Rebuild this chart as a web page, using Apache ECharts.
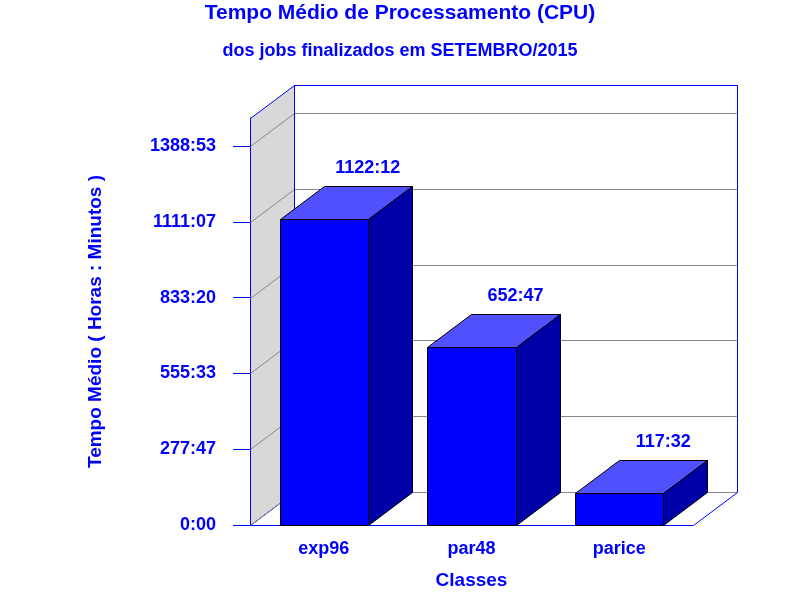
<!DOCTYPE html>
<html><head><meta charset="utf-8">
<script src="https://cdn.jsdelivr.net/npm/echarts@6/dist/echarts.min.js"></script>
<style>html,body{margin:0;padding:0;background:#fff}#c{width:800px;height:600px}</style>
</head><body><div id="c"></div>
<script>
// ---- data ----
const categories = ['exp96', 'par48', 'parice'];
// average CPU time in minutes (1122:12, 652:47, 117:32)
const cpuMinutes = [67332, 39167, 7052];
// y-axis ticks (minutes) and their labels
const tickMinutes = [0, 16666.67, 33333.33, 50000, 66666.67, 83333.33];
const tickLabels = ['0:00', '277:47', '555:33', '833:20', '1111:07', '1388:53'];

const FONT = '"Liberation Sans", Arial, Helvetica, sans-serif';
const BLUE = '#0000ff';
const DX = 44, DY = 33;

function fmtHM(m) {
  const t = Math.round(m);
  const h = Math.floor(t / 60), mm = t % 60;
  return h + ':' + (mm < 10 ? '0' : '') + mm;
}
const px = v => Math.round(v) + 0.5;

function renderWalls(params, api) {
  const cs = params.coordSys;
  const x0 = px(cs.x), x1 = px(cs.x + cs.width);
  const yt = px(cs.y), yb = px(cs.y + cs.height);
  const ch = [];
  ch.push({ type: 'rect', shape: { x: x0 + DX, y: yt - DY, width: x1 - x0, height: yb - yt },
    style: { fill: '#ffffff', stroke: BLUE, lineWidth: 1 } });
  ch.push({ type: 'polygon', shape: { points: [[x0, yb], [x0 + DX, yb - DY], [x0 + DX, yt - DY], [x0, yt]] },
    style: { fill: '#d8d8d8', stroke: BLUE, lineWidth: 1 } });
  tickMinutes.forEach(v => {
    const y = px(api.coord([0, v])[1]);
    ch.push({ type: 'polyline', shape: { points: [[x0, y], [x0 + DX, y - DY], [x1 + DX, y - DY]] },
      style: { fill: null, stroke: '#888888', lineWidth: 1 } });
  });
  ch.push({ type: 'line', shape: { x1: x1, y1: yb, x2: x1 + DX, y2: yb - DY },
    style: { stroke: BLUE, lineWidth: 1 } });
  ch.push({ type: 'line', shape: { x1: x0 + DX, y1: yt - DY, x2: x0 + DX, y2: yb - DY },
    style: { stroke: BLUE, lineWidth: 1 } });
  return { type: 'group', children: ch };
}

function renderBar(params, api) {
  const p = api.coord([api.value(0), api.value(1)]);
  const p0 = api.coord([api.value(0), 0]);
  const bw = api.size([1, 0])[0] * 0.6;
  const xl = px(p[0] - bw / 2), xr = px(p[0] + bw / 2);
  const yt = px(p[1]), yb = px(p0[1]);
  const edge = { stroke: '#000000', lineWidth: 1 };
  return {
    type: 'group',
    children: [
      { type: 'polygon', shape: { points: [[xl, yt], [xl + DX, yt - DY], [xr + DX, yt - DY], [xr, yt]] },
        style: Object.assign({ fill: '#5050ff' }, edge) },
      { type: 'polygon', shape: { points: [[xr, yt], [xr + DX, yt - DY], [xr + DX, yb - DY], [xr, yb]] },
        style: Object.assign({ fill: '#0000a8' }, edge) },
      { type: 'rect', shape: { x: xl, y: yt, width: xr - xl, height: yb - yt },
        style: Object.assign({ fill: '#0000ff' }, edge) },
      { type: 'text', style: { text: fmtHM(api.value(1)), x: p[0] + DX, y: yt - DY - 18,
        align: 'center', verticalAlign: 'middle', fill: BLUE,
        font: 'bold 18px ' + FONT } }
    ]
  };
}

const chart = echarts.init(document.getElementById('c'), null, { renderer: 'canvas' });
chart.setOption({
  animation: false,
  backgroundColor: '#ffffff',
  title: [
    { text: 'Tempo Médio de Processamento (CPU)', left: 'center', top: 3, padding: 0,
      textStyle: { fontSize: 21, fontWeight: 'bold', color: BLUE, fontFamily: FONT } },
    { text: 'dos jobs finalizados em SETEMBRO/2015', left: 'center', top: 42, padding: 0,
      textStyle: { fontSize: 18, fontWeight: 'bold', color: BLUE, fontFamily: FONT } }
  ],
  grid: { left: 250, right: 107, top: 118, bottom: 75, containLabel: false },
  xAxis: {
    type: 'category', data: categories,
    name: 'Classes', nameLocation: 'middle', nameGap: 46,
    nameTextStyle: { fontSize: 19, fontWeight: 'bold', color: BLUE, fontFamily: FONT },
    axisLine: { lineStyle: { color: BLUE, width: 1 } },
    axisTick: { show: false },
    axisLabel: { margin: 15, fontSize: 18, fontWeight: 'bold', color: BLUE, fontFamily: FONT },
    splitLine: { show: false }
  },
  yAxis: {
    type: 'value', min: 0, max: 89500,
    name: 'Tempo Médio ( Horas : Minutos )', nameLocation: 'middle', nameGap: 145,
    nameTextStyle: { fontSize: 19, fontWeight: 'bold', color: BLUE, fontFamily: FONT },
    axisLine: { show: true, lineStyle: { color: BLUE, width: 1 } },
    axisTick: { show: true, length: 17, inside: false, customValues: tickMinutes,
      lineStyle: { color: BLUE, width: 1 } },
    axisLabel: { margin: 34, fontSize: 18, fontWeight: 'bold', color: BLUE, fontFamily: FONT,
      customValues: tickMinutes,
      formatter: v => { const i = tickMinutes.findIndex(t => Math.abs(t - v) < 1); return i >= 0 ? tickLabels[i] : ''; } },
    splitLine: { show: false }
  },
  series: [
    { type: 'custom', name: 'walls', renderItem: renderWalls, data: [[0, 0]], clip: false, z: 1, silent: true },
    { type: 'custom', name: 'CPU', renderItem: renderBar, clip: false, z: 2,
      data: categories.map((c, i) => [i, cpuMinutes[i]]) }
  ]
});
</script>
</body></html>
